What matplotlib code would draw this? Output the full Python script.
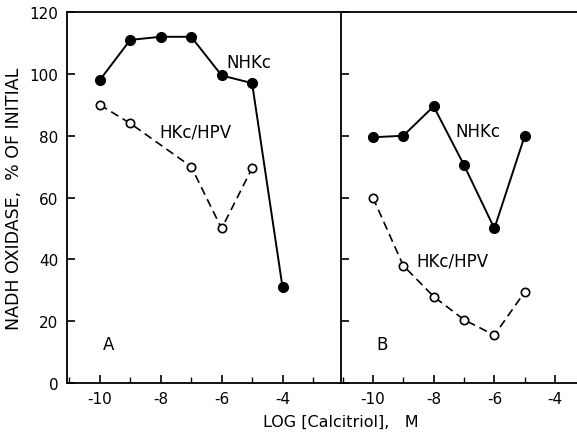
import matplotlib
matplotlib.use("Agg")
import matplotlib.pyplot as plt
from matplotlib.ticker import MultipleLocator

plt.rcParams['font.family'] = ['DejaVu Sans']

# Panel A
a_x_nhkc = [-10, -9, -8, -7, -6, -5, -4]
a_nhkc = [98, 111, 112, 112, 99.5, 97, 31]
a_x_hkc = [-10, -9, -7, -6, -5]
a_hkc = [90, 84, 70, 50, 69.5]

# Panel B
b_x = [-10, -9, -8, -7, -6, -5]
b_nhkc = [79.5, 80, 89.5, 70.5, 50, 80]
b_hkc = [60, 38, 28, 20.5, 15.5, 29.5]

xticks = [-10, -8, -6, -4]
xticklabels = ['-10', '-8', '-6', '-4']
yticks = [0, 20, 40, 60, 80, 100, 120]

fig = plt.figure(figsize=(5.77, 4.35), dpi=100)
axA = fig.add_axes([0.116, 0.117, 0.475, 0.853])
axB = fig.add_axes([0.591, 0.117, 0.409, 0.853], sharey=axA)

def style(ax, xlim):
    ax.set_xlim(*xlim)
    ax.set_ylim(0, 120)
    ax.set_xticks(xticks)
    ax.set_xticklabels(xticklabels)
    ax.xaxis.set_minor_locator(MultipleLocator(1))
    ax.set_yticks(yticks)
    ax.tick_params(axis='both', which='major', direction='in', length=6, width=1.2,
                   labelsize=11, pad=6, top=False, right=False)
    ax.tick_params(axis='x', which='minor', direction='in', length=4, width=1.0, top=False)
    for s in ax.spines.values():
        s.set_linewidth(1.3)

lc = 'black'
ann = 12
axA.plot(a_x_nhkc, a_nhkc, '-', color=lc, lw=1.4, marker='o', ms=7, mfc=lc, mec=lc, zorder=3)
axA.plot(a_x_hkc, a_hkc, '--', color=lc, lw=1.2, dashes=(5, 3), marker='o', ms=6,
         mfc='white', mec=lc, mew=1.2, zorder=3)
style(axA, (-11.08, -2.08))
axA.spines['right'].set_visible(False)
axA.set_ylabel('NADH OXIDASE,  % OF INITIAL', fontsize=12.5, labelpad=5)
axA.text(-5.83, 104, 'NHKc', fontsize=ann, va='center')
axA.text(-8.03, 81.5, 'HKc/HPV', fontsize=ann, va='center')
axA.text(-9.9, 12.5, 'A', fontsize=ann, va='center')

axB.plot(b_x, b_nhkc, '-', color=lc, lw=1.4, marker='o', ms=7, mfc=lc, mec=lc, zorder=3)
axB.plot(b_x, b_hkc, '--', color=lc, lw=1.2, dashes=(5, 3), marker='o', ms=6,
         mfc='white', mec=lc, mew=1.2, zorder=3)
style(axB, (-11.05, -3.28))
axB.spines['right'].set_visible(False)
axB.tick_params(axis='y', labelleft=False)
axB.text(-7.3, 81.5, 'NHKc', fontsize=ann, va='center')
axB.text(-8.58, 39.5, 'HKc/HPV', fontsize=ann, va='center')
axB.text(-9.87, 12.5, 'B', fontsize=ann, va='center')

fig.text(0.59, 0.018, 'LOG [Calcitriol],   M', fontsize=11.5, ha='center', va='baseline')

fig.savefig('out.png', dpi=100)
